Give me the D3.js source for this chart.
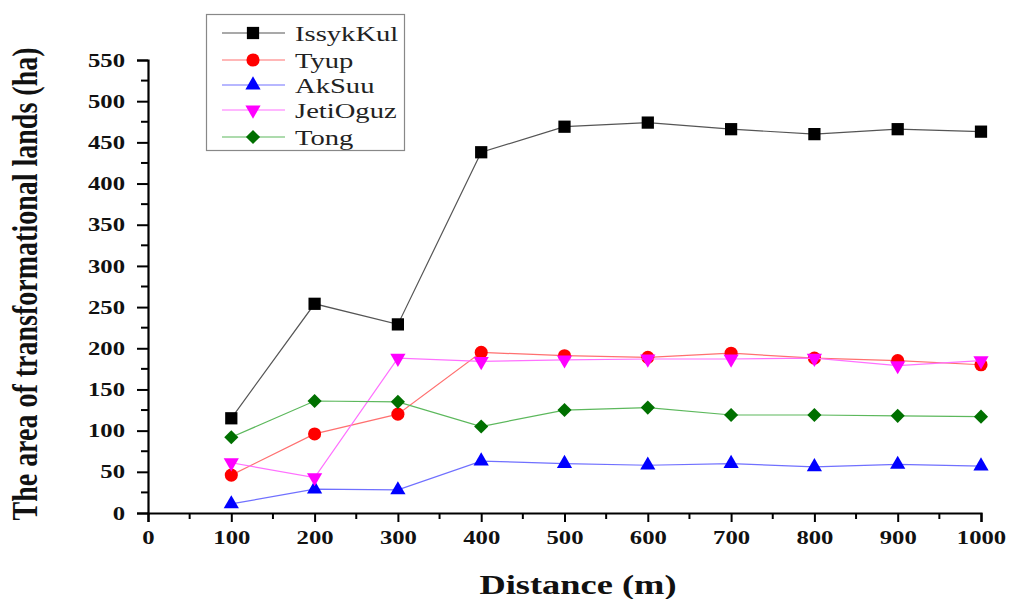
<!DOCTYPE html>
<html><head><meta charset="utf-8">
<script src="https://cdn.jsdelivr.net/npm/d3@7"></script>
<style>body{margin:0;background:#fff}svg{display:block}</style>
</head><body><svg id="c" width="1011" height="599"></svg>
<script>
const distances = [100,200,300,400,500,600,700,800,900,1000];
const issykKul = [115,254,229,438,469,474,466,460,466,463];
const tyup     = [46,96,120,195,191,189,194,188,185,180];
const akSuu    = [11,29,28,63,60,58,60,56,59,57];
const jetiOguz = [61,43,188,184,186,187,187,188,179,185];
const tong     = [92,136,135,105,125,128,119,119,118,117];
const seriesNames = ["IssykKul","Tyup","AkSuu","JetiOguz","Tong"];
const xTicks = [0,100,200,300,400,500,600,700,800,900,1000];
const yTicks = [0,50,100,150,200,250,300,350,400,450,500,550];

const styles = {
  IssykKul:{line:"#555", fill:"#000", sym:d3.symbolSquare, size:150, rot:0},
  Tyup:{line:"#ff7070", fill:"#ff0000", sym:d3.symbolCircle, size:135, rot:0},
  AkSuu:{line:"#7070ff", fill:"#0000ff", sym:d3.symbolTriangle, size:100, rot:0},
  JetiOguz:{line:"#ff70ff", fill:"#ff00ff", sym:d3.symbolTriangle, size:100, rot:180},
  Tong:{line:"#5cb85c", fill:"#007000", sym:d3.symbolSquare, size:100, rot:45}
};
const data = [issykKul,tyup,akSuu,jetiOguz,tong];
const STRETCH = 1.3;

const svg = d3.select("#c");
const x = d3.scaleLinear().domain([0,1000]).range([148,981]);
const y = d3.scaleLinear().domain([0,550]).range([513,60]);
const font = "'Liberation Serif','Times New Roman',serif";

function stretch(sel){
  sel.each(function(){
    const w = this.getComputedTextLength();
    d3.select(this).attr("textLength", w*STRETCH).attr("lengthAdjust","spacingAndGlyphs");
  });
}

// axes
const xAxis = d3.axisBottom(x).tickValues(xTicks).tickSize(9).tickPadding(9).tickFormat(d3.format("d"));
const gx = svg.append("g").attr("transform","translate(0,513)").call(xAxis);
const yAxis = d3.axisLeft(y).tickValues(yTicks).tickSize(11).tickPadding(12).tickFormat(d3.format("d"));
const gy = svg.append("g").attr("transform","translate(148,0)").call(yAxis);
[gx,gy].forEach(g=>{
  g.select(".domain").attr("stroke","#000").attr("stroke-width",2.2);
  g.selectAll(".tick line").attr("stroke","#000").attr("stroke-width",2);
  g.selectAll(".tick text").attr("font-family",font).attr("font-weight","bold").attr("font-size",19).attr("fill","#111").call(stretch);
});
// minor ticks
const xMinor = xTicks.slice(0,-1).map(v=>v+50);
svg.append("g").selectAll("line").data(xMinor).join("line")
  .attr("x1",d=>x(d)).attr("x2",d=>x(d)).attr("y1",513).attr("y2",519)
  .attr("stroke","#000").attr("stroke-width",2);
const yMinor = yTicks.slice(0,-1).map(v=>v+25);
svg.append("g").selectAll("line").data(yMinor).join("line")
  .attr("x1",148).attr("x2",141).attr("y1",d=>y(d)).attr("y2",d=>y(d))
  .attr("stroke","#000").attr("stroke-width",2);

// axis titles
svg.append("text").attr("x",578).attr("y",594).attr("text-anchor","middle")
  .attr("font-family",font).attr("font-weight","bold").attr("font-size",28).attr("fill","#111")
  .text("Distance (m)").call(stretch);
svg.append("text").attr("transform",`translate(37,284) scale(${STRETCH},1) rotate(-90)`).attr("text-anchor","middle")
  .attr("font-family",font).attr("font-weight","bold").attr("font-size",28).attr("fill","#111")
  .text("The area of transformational lands (ha)");

// series
const line = d3.line().x((d,i)=>x(distances[i])).y(d=>y(d));
seriesNames.forEach((name,k)=>{
  const s = styles[name];
  const g = svg.append("g");
  g.append("path").datum(data[k]).attr("d",line).attr("fill","none").attr("stroke",s.line).attr("stroke-width",1.2);
  g.selectAll("path.m").data(data[k]).join("path").attr("class","m")
    .attr("d",d3.symbol().type(s.sym).size(s.size))
    .attr("transform",(d,i)=>`translate(${x(distances[i])},${y(d)}) rotate(${s.rot})`)
    .attr("fill",s.fill);
});

// legend
const lg = svg.append("g");
lg.append("rect").attr("x",206.5).attr("y",14.5).attr("width",198).attr("height",136)
  .attr("fill","#fff").attr("stroke","#888").attr("stroke-width",1.2);
const ly = [33,60,85,110,137];
seriesNames.forEach((name,k)=>{
  const s = styles[name];
  lg.append("line").attr("x1",222).attr("x2",285).attr("y1",ly[k]).attr("y2",ly[k]).attr("stroke",s.line).attr("stroke-width",1.2);
  lg.append("path").attr("d",d3.symbol().type(s.sym).size(s.size))
    .attr("transform",`translate(253,${ly[k]}) rotate(${s.rot})`).attr("fill",s.fill);
  lg.append("text").attr("x",295).attr("y",ly[k]+8).attr("font-family",font).attr("font-size",22).attr("fill","#222").text(name).call(stretch);
});
</script></body></html>
